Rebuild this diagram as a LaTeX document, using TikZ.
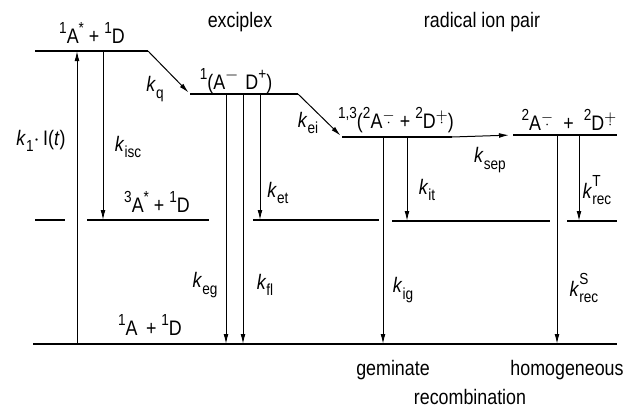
\documentclass[tikz,border=0pt]{standalone}
\usepackage{fontspec}
\setmainfont{Liberation Sans}[FakeStretch=0.85]
\usetikzlibrary{arrows.meta}

% rate constant k with optional superscript
\newcommand{\rk}[2][]{\textit{k}\raisebox{-0.55ex}{\footnotesize\rlap{\raisebox{2.1ex}{#1}}#2}}
\newcommand{\sups}[1]{\raisebox{0.9ex}{\footnotesize #1}}
% radical ion marks: charge above a dot
\newcommand{\radm}{\raisebox{0.15ex}{\scriptsize\ooalign{\hfil\raisebox{1ex}{$-$}\hfil\cr\hfil$\cdot$\hfil}}}
\newcommand{\radp}{\raisebox{0.15ex}{\scriptsize\ooalign{\hfil\raisebox{1ex}{$+$}\hfil\cr\hfil$\cdot$\hfil}}}

\begin{document}
\begin{tikzpicture}[
    x=0.5pt, y=-0.5pt,
    lvl/.style={line width=1.4pt},
    rate/.style={line width=0.5pt, -{Latex[length=5pt,width=2.4pt]}},
    every node/.style={font=\fontsize{10.5}{12}\selectfont, inner sep=0pt}
  ]
  \useasboundingbox (0,0) rectangle (630,408);

  % energy levels
  \draw[lvl] (35,51) coordinate (s1a) -- (148,51) coordinate (s1b);
  \draw[lvl] (190,94) coordinate (exa) -- (298,94) coordinate (exb);
  \draw[lvl] (342,137) coordinate (rpa) -- (452,137) coordinate (rpb);
  \draw[lvl] (513,135) coordinate (fia) -- (617,135) coordinate (fib);
  \draw[lvl] (35,220) -- (65,220);
  \draw[lvl] (87,220) coordinate (t1) -- (209,220);
  \draw[lvl] (253,220) coordinate (t2) -- (379,220);
  \draw[lvl] (392,221) coordinate (t3) -- (550,221);
  \draw[lvl] (567,221) coordinate (t4) -- (617,221);
  \draw[lvl] (33,344) coordinate (gnd) -- (617,344);

  % transitions
  \draw[rate] (77,0 |- gnd) -- (77,0 |- s1a);
  \draw[rate] (103,0 |- s1a) -- (103,0 |- t1);
  \draw[rate, shorten >=1pt] (s1b) -- (exa);
  \draw[rate] (226,0 |- exa) -- (226,0 |- gnd);
  \draw[rate] (243,0 |- exa) -- (243,0 |- gnd);
  \draw[rate] (260,0 |- exa) -- (260,0 |- t2);
  \draw[rate, shorten >=1pt] (exb) -- (rpa);
  \draw[rate] (383,0 |- rpa) -- (383,0 |- gnd);
  \draw[rate] (407,0 |- rpa) -- (407,0 |- t3);
  \draw[rate, shorten >=2pt] (rpb) -- (fia);
  \draw[rate] (557,0 |- fia) -- (557,0 |- gnd);
  \draw[rate] (579,0 |- fia) -- (579,0 |- t4);

  % species
  \node (s1) at (92,33) {\sups{1}A\sups{*} + \sups{1}D};
  \node (exc) at (240,22) {exciplex};
  \node (rip) at (482,22) {radical ion pair};
  \node (exs) at (236,81) {\sups{1}(A\sups{$-$}\,\,D\sups{+})};
  \node (tri) at (157,202) {\sups{3}A\sups{*} + \sups{1}D};
  \node (gs) at (150,325) {\sups{1}A \,+ \sups{1}D};
  \node (rps) at (396,120) {\sups{1,3}(\sups{2}A\radm\ + \sups{2}D\radp)};
  \node (fis) at (569,120) {\sups{2}A\radm\ \ + \ \sups{2}D\radp};

  % rate constants
  \node (kex) at (41,141) {\textit{k}\raisebox{-0.55ex}{\footnotesize 1}$\cdot$\,I(\textit{t})};
  \node (kisc) at (128,147) {\rk{isc}};
  \node (kq) at (155,89) {\rk{q}};
  \node (kei) at (308,123) {\rk{ei}};
  \node (ket) at (278,193) {\rk{et}};
  \node (keg) at (205,285) {\rk{eg}};
  \node (kfl) at (265,285) {\rk{fl}};
  \node (ksep) at (490,160) {\rk{sep}};
  \node (kit) at (427,190) {\rk{it}};
  \node (krt) at (597,190) {\rk[T]{rec}};
  \node (kig) at (403,290) {\rk{ig}};
  \node (krs) at (584,288) {\rk[S]{rec}};

  % bottom captions
  \node (gem) at (393,370) {geminate};
  \node (hom) at (567,370) {homogeneous};
  \node (rec) at (470,397) {recombination};
\end{tikzpicture}
\end{document}
